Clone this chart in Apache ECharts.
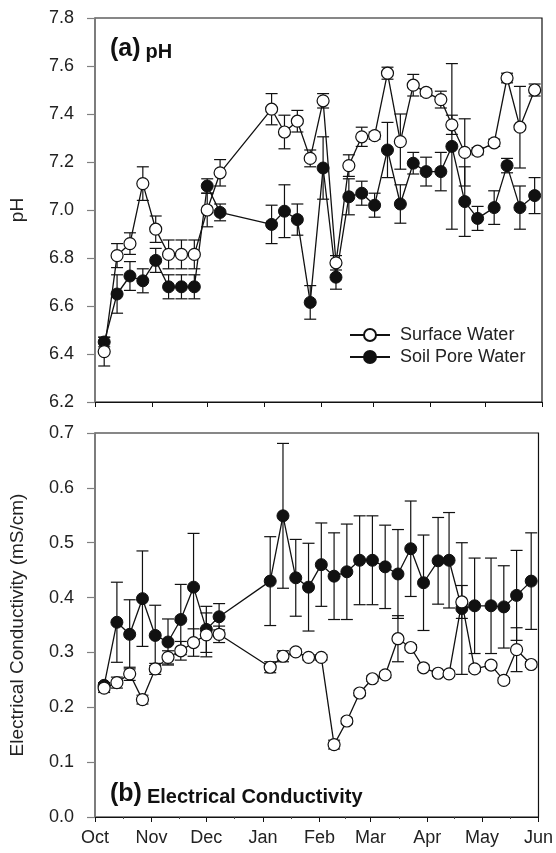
<!DOCTYPE html>
<html>
<head>
<meta charset="utf-8">
<script src="https://cdn.jsdelivr.net/npm/echarts@6/dist/echarts.min.js"></script>
<style>
  html, body { margin: 0; padding: 0; background: #fff; }
  #chart { width: 556px; height: 853px; }
</style>
</head>
<body>
<div id="chart"></div>
<script>
// sampling dates (weekly-ish), Oct to May
var dates = ['2009-10-06','2009-10-13','2009-10-20','2009-10-27','2009-11-03','2009-11-10','2009-11-17',
  '2009-11-24','2009-12-01','2009-12-08','2010-01-05','2010-01-12','2010-01-19','2010-01-26','2010-02-02',
  '2010-02-09','2010-02-16','2010-02-23','2010-03-02','2010-03-09','2010-03-16','2010-03-23','2010-03-30',
  '2010-04-07','2010-04-13','2010-04-20','2010-04-27','2010-05-06','2010-05-13','2010-05-20','2010-05-28'];

// (a) pH
var phSurface = [6.41, 6.81, 6.86, 7.11, 6.92, 6.815, 6.815, 6.815, 7.0, 7.155, 7.42, 7.325, 7.37, 7.215, 7.455,
  6.78, 7.185, 7.305, 7.31, 7.57, 7.285, 7.52, 7.49, 7.46, 7.355, 7.24, 7.245, 7.28, 7.55, 7.345, 7.5];
var phSurfaceErr = [0.06, 0.05, 0.045, 0.07, 0.055, 0.06, 0.06, 0.06, 0.07, 0.055, 0.065, 0.07, 0.045, 0.035, 0.03,
  0.03, 0.045, 0.04, 0.015, 0.025, 0.115, 0.045, 0.015, 0.035, 0.04, 0.14, 0.015, 0.015, 0.02, 0.17, 0.025];
var phSoil = [6.45, 6.65, 6.725, 6.705, 6.79, 6.68, 6.68, 6.68, 7.1, 6.99, 6.94, 6.995, 6.96, 6.615, 7.175,
  6.72, 7.055, 7.07, 7.02, 7.25, 7.025, 7.195, 7.16, 7.16, 7.265, 7.035, 6.965, 7.01, 7.185, 7.01, 7.06];
var phSoilErr = [0.02, 0.08, 0.06, 0.05, 0.05, 0.05, 0.05, 0.05, 0.03, 0.035, 0.08, 0.11, 0.065, 0.07, 0.13,
  0.05, 0.075, 0.05, 0.05, 0.115, 0.08, 0.045, 0.06, 0.08, 0.345, 0.145, 0.05, 0.07, 0.03, 0.09, 0.075];

// (b) electrical conductivity, mS/cm
var ecSurface = [0.235, 0.245, 0.261, 0.214, 0.270, 0.291, 0.303, 0.318, 0.332, 0.333, 0.273, 0.293, 0.301, 0.291, 0.291,
  0.132, 0.175, 0.226, 0.252, 0.259, 0.325, 0.309, 0.272, 0.262, 0.261, 0.392, 0.270, 0.277, 0.249, 0.305, 0.278];
var ecSurfaceErr = [0.008, 0.01, 0.012, 0.008, 0.01, 0.012, 0.017, 0.025, 0.04, 0.015, 0.01, 0.01, 0.005, 0.005, 0.005,
  0.008, 0.005, 0.005, 0.005, 0.005, 0.042, 0.005, 0.005, 0.005, 0.005, 0.03, 0.005, 0.005, 0.005, 0.04, 0.005];
var ecSoil = [0.24, 0.355, 0.333, 0.398, 0.331, 0.319, 0.36, 0.419, 0.342, 0.365, 0.43, 0.549, 0.436, 0.419, 0.46,
  0.439, 0.447, 0.468, 0.468, 0.456, 0.443, 0.489, 0.427, 0.467, 0.468, 0.38, 0.385, 0.385, 0.383, 0.404, 0.43];
var ecSoilErr = [0.005, 0.073, 0.063, 0.087, 0.055, 0.042, 0.064, 0.098, 0.042, 0.024, 0.081, 0.132, 0.07, 0.08, 0.076,
  0.079, 0.087, 0.081, 0.081, 0.076, 0.081, 0.087, 0.087, 0.079, 0.087, 0.12, 0.087, 0.087, 0.075, 0.082, 0.088];

var FONT = '"Liberation Sans", Arial, Helvetica, sans-serif';
var INK = '#111';

function pts(vals) {
  return dates.map(function (d, i) { return [d, vals[i]]; });
}
function bars(vals, errs) {
  return dates.map(function (d, i) { return [d, vals[i] - errs[i], vals[i] + errs[i]]; });
}

// vertical error bar with caps
function errRender(params, api) {
  var x = api.value(0);
  var top = api.coord([x, api.value(2)]);
  var bot = api.coord([x, api.value(1)]);
  var w = 6;
  var st = { stroke: INK, lineWidth: 1.2, fill: null };
  return {
    type: 'group',
    children: [
      { type: 'line', shape: { x1: top[0], y1: top[1], x2: bot[0], y2: bot[1] }, style: st },
      { type: 'line', shape: { x1: top[0] - w, y1: top[1], x2: top[0] + w, y2: top[1] }, style: st },
      { type: 'line', shape: { x1: bot[0] - w, y1: bot[1], x2: bot[0] + w, y2: bot[1] }, style: st }
    ]
  };
}

function xAxisCfg(gi, labels) {
  return {
    type: 'time', gridIndex: gi,
    min: '2009-10-01', max: '2010-06-01',
    minInterval: 28 * 86400000, maxInterval: 31 * 86400000,
    axisLine: { lineStyle: { color: INK, width: 1.2 } },
    axisTick: { show: true, length: 5, inside: false, lineStyle: { color: INK } },
    minorTick: { show: labels, splitNumber: 2, length: 2, lineStyle: { color: '#444' } },
    splitLine: { show: false },
    axisLabel: {
      show: labels, formatter: '{MMM}', margin: 12,
      showMinLabel: true, showMaxLabel: true,
      fontSize: 18, color: '#222', fontFamily: FONT, hideOverlap: false
    }
  };
}

function yAxisCfg(gi, min, max, step, name) {
  return {
    type: 'value', gridIndex: gi, min: min, max: max, interval: step,
    name: name, nameLocation: 'middle', nameGap: 68,
    nameTextStyle: { fontSize: 19, color: '#222', fontFamily: FONT },
    axisLine: { show: true, lineStyle: { color: '#808080', width: 1.6 } },
    axisTick: { show: true, length: 8, lineStyle: { color: '#808080', width: 1.2 } },
    splitLine: { show: false },
    axisLabel: {
      margin: 21, fontSize: 18, color: '#222', fontFamily: FONT,
      formatter: function (v) { return v.toFixed(1); }
    }
  };
}

function lineSeries(name, gi, vals, open) {
  return {
    name: name, type: 'line', xAxisIndex: gi, yAxisIndex: gi,
    data: pts(vals),
    symbol: 'circle', symbolSize: 12, showSymbol: true,
    lineStyle: { color: INK, width: 1.3 },
    itemStyle: open ? { color: '#fff', borderColor: INK, borderWidth: 1.2 }
                    : { color: INK, borderColor: INK, borderWidth: 1 },
    z: open ? 4 : 3,
    emphasis: { disabled: true }
  };
}

function errSeries(gi, vals, errs, z) {
  return {
    type: 'custom', xAxisIndex: gi, yAxisIndex: gi,
    data: bars(vals, errs),
    encode: { x: 0, y: [1, 2] },
    renderItem: errRender,
    z: z, silent: true
  };
}

var chart = echarts.init(document.getElementById('chart'), null, { renderer: 'canvas' });

chart.setOption({
  animation: false,
  backgroundColor: '#fff',
  textStyle: { fontFamily: FONT },
  grid: [
    { left: 95, top: 18, width: 447, height: 384, show: true, borderColor: INK, borderWidth: 1.2 },
    { left: 95, top: 433, width: 447, height: 384, show: true, borderColor: INK, borderWidth: 1.2 }
  ],
  xAxis: [xAxisCfg(0, false), xAxisCfg(1, true)],
  yAxis: [
    yAxisCfg(0, 6.2, 7.8, 0.2, 'pH'),
    yAxisCfg(1, 0, 0.7, 0.1, 'Electrical Conductivity (mS/cm)')
  ],
  title: [
    {
      text: '{a|(a)} {b|pH}', left: 105, top: 32,
      textStyle: { rich: {
        a: { fontSize: 25, fontWeight: 'bold', color: INK, fontFamily: FONT, verticalAlign: 'bottom' },
        b: { fontSize: 20, fontWeight: 'bold', color: INK, fontFamily: FONT, verticalAlign: 'bottom' }
      } }
    },
    {
      text: '{a|(b)} {b|Electrical Conductivity}', left: 105, top: 777,
      textStyle: { rich: {
        a: { fontSize: 25, fontWeight: 'bold', color: INK, fontFamily: FONT, verticalAlign: 'bottom' },
        b: { fontSize: 20, fontWeight: 'bold', color: INK, fontFamily: FONT, verticalAlign: 'bottom' }
      } }
    }
  ],
  legend: {
    data: ['Surface Water', 'Soil Pore Water'],
    orient: 'vertical', left: 344, top: 321,
    itemWidth: 40, itemHeight: 15, itemGap: 4,
    textStyle: { fontSize: 18, color: '#222', fontFamily: FONT, padding: [0, 0, 0, 5] },
    selectedMode: false
  },
  series: [
    errSeries(0, phSoil, phSoilErr, 1),
    errSeries(0, phSurface, phSurfaceErr, 2),
    lineSeries('Soil Pore Water', 0, phSoil, false),
    lineSeries('Surface Water', 0, phSurface, true),
    errSeries(1, ecSoil, ecSoilErr, 1),
    errSeries(1, ecSurface, ecSurfaceErr, 2),
    lineSeries('Soil Pore Water', 1, ecSoil, false),
    lineSeries('Surface Water', 1, ecSurface, true)
  ]
});
</script>
</body>
</html>
